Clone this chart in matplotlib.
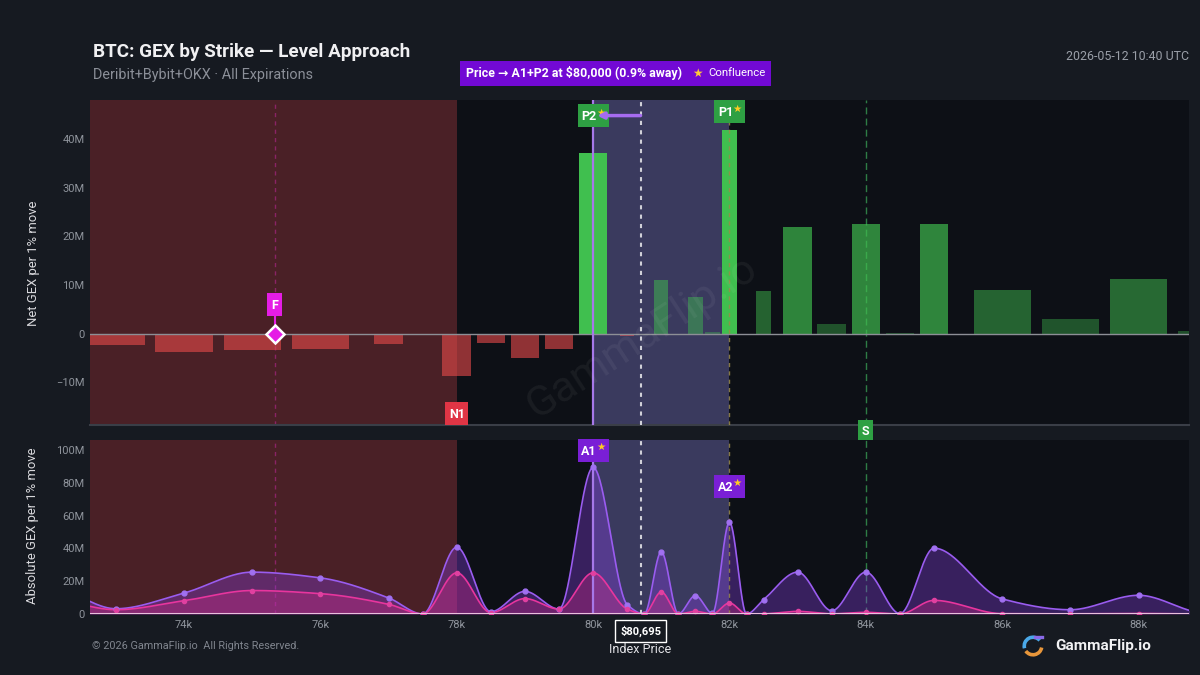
import numpy as np
import matplotlib
matplotlib.use("Agg")
import matplotlib.pyplot as plt
from matplotlib.patches import Rectangle, Arc
from matplotlib.transforms import blended_transform_factory, ScaledTranslation

plt.rcParams['font.family'] = ['Roboto', 'DejaVu Sans']

# ---------------- data ----------------
strikes = [72000, 73000, 74000, 75000, 76000, 77000, 77500, 78000, 78500, 79000,
           79500, 80000, 80500, 80750, 81000, 81250, 81500, 81750, 82000, 82250,
           82500, 83000, 83500, 84000, 84500, 85000, 86000, 87000, 88000, 89000]
net_gex = [-2.0, -2.3, -3.8, -3.4, -3.2, -2.2, 0.0, -8.7, -1.9, -4.9,
           -3.2, 37.2, -0.4, 0.0, 11.1, 0.0, 7.6, 0.4, 41.8, 0.0,
           8.8, 22.0, 2.0, 22.5, 0.2, 22.6, 8.9, 3.0, 11.3, 0.6]
abs_total = [17.0, 3.2, 12.8, 25.5, 22.0, 9.8, 0.0, 40.7, 1.4, 13.8,
             3.0, 89.3, 5.7, 0.0, 37.9, 0.0, 11.2, 0.4, 56.0, 0.0,
             8.7, 25.5, 2.0, 25.5, 0.2, 40.1, 9.2, 2.6, 11.4, 0.4]
abs_put = [9.0, 2.6, 8.1, 14.3, 12.4, 5.9, 0.0, 25.1, 0.8, 9.4,
           3.0, 25.1, 3.0, 0.0, 13.4, 0.0, 1.6, 0.0, 6.7, 0.0,
           0.1, 1.6, 0.1, 1.0, 0.0, 8.3, 0.2, 0.1, 0.3, 0.0]

top_ticks = [-10, 0, 10, 20, 30, 40]
top_tick_labels = ['−10M', '0', '10M', '20M', '30M', '40M']
bot_ticks = [0, 20, 40, 60, 80, 100]
bot_tick_labels = ['0', '20M', '40M', '60M', '80M', '100M']
x_ticks = [74000, 76000, 78000, 80000, 82000, 84000, 86000, 88000]
x_tick_labels = ['74k', '76k', '78k', '80k', '82k', '84k', '86k', '88k']

index_price = 80695
gamma_flip = 75330
neg_zone_end = 78000
band = (80000, 82000)
p_levels = {'P2': 80000, 'P1': 82000}
a_levels = {'A1': 80000, 'A2': 82000}
n_levels = {'N1': 78000}
s_level = 84000

title = 'BTC: GEX by Strike — Level Approach'
subtitle = 'Deribit+Bybit+OKX · All Expirations'
stamp = '2026-05-12 10:40 UTC'
banner = 'Price → A1+P2 at $80,000 (0.9% away)'

# ---------------- helpers ----------------
def pchip_curve(x, y, n=60):
    x = np.asarray(x, float); y = np.asarray(y, float)
    h = np.diff(x); d = np.diff(y) / h
    m = np.zeros_like(y)
    for k in range(1, len(x) - 1):
        if d[k - 1] * d[k] > 0:
            w1 = 2 * h[k] + h[k - 1]; w2 = h[k] + 2 * h[k - 1]
            m[k] = (w1 + w2) / (w1 / d[k - 1] + w2 / d[k])
    xs, ys = [], []
    t = np.linspace(0, 1, n, endpoint=False)
    h00 = 2 * t**3 - 3 * t**2 + 1; h10 = t**3 - 2 * t**2 + t
    h01 = -2 * t**3 + 3 * t**2; h11 = t**3 - t**2
    for k in range(len(x) - 1):
        xs.append(x[k] + t * h[k])
        ys.append(h00 * y[k] + h10 * h[k] * m[k] + h01 * y[k + 1] + h11 * h[k] * m[k + 1])
    xs.append([x[-1]]); ys.append([y[-1]])
    return np.concatenate(xs), np.clip(np.concatenate(ys), 0, None)

FIG_BG = '#161a21'
AX_BG = '#0d1016'
RED_ZONE = '#4a2026'
BAND = '#3a3a5e'
TICK_C = '#8f949c'

fig = plt.figure(figsize=(12, 6.75), dpi=100, facecolor=FIG_BG)
ax1 = fig.add_axes([90 / 1200, 1 - 425 / 675, 1099 / 1200, 325 / 675])
ax2 = fig.add_axes([90 / 1200, 1 - 614 / 675, 1099 / 1200, 174 / 675])
XLIM = (72620, 88740)

for ax in (ax1, ax2):
    ax.set_facecolor(AX_BG)
    for s in ax.spines.values():
        s.set_visible(False)
    ax.set_xlim(*XLIM)
    ax.tick_params(length=0, colors=TICK_C, labelsize=8, pad=4)
    ax.axvspan(XLIM[0], neg_zone_end, color=RED_ZONE, zorder=0, lw=0)
    ax.axvspan(band[0], band[1], color=BAND, zorder=0, lw=0)
    ax.axvline(gamma_flip, color='#c0289a', alpha=0.55, lw=1, dashes=(3, 3), zorder=2)
    ax.axvline(p_levels['P2'], color='#a678e8', lw=1.6, zorder=5)
    ax.axvline(index_price, color='#d0d0d8', lw=1.5, dashes=(2, 2.5), zorder=5)
    ax.axvline(p_levels['P1'], color='#9a8a4a', alpha=0.85, lw=1, dashes=(3, 3), zorder=5)
    ax.axvline(s_level, color='#2e7d45', lw=1, dashes=(5, 3), zorder=2)

ax1.spines['bottom'].set_visible(True)
ax1.spines['bottom'].set_color('#3a3e47')
ax1.spines['bottom'].set_linewidth(1.5)

# ---------------- top panel: net GEX bars ----------------
st = np.array(strikes, float)
gaps = np.diff(st)
left_gap = np.concatenate([[np.inf], gaps])
right_gap = np.concatenate([gaps, [np.inf]])
widths = 0.84 * np.minimum(left_gap, right_gap)
vmax = max(net_gex)
colors = []
for s_, v in zip(strikes, net_gex):
    if v < 0:
        colors.append((0.91, 0.29, 0.29, 0.6))
    else:
        a = 1.0 if s_ in p_levels.values() else 0.35 + 0.6 * v / vmax
        colors.append((0.25, 0.75, 0.31, a))
ax1.bar(strikes, net_gex, width=widths, color=colors, zorder=3, lw=0)
ax1.axhline(0, color='#8d8f96', lw=1, zorder=4)
ax1.set_ylim(-18.75, 48)
ax1.set_yticks(top_ticks)
ax1.set_yticklabels(top_tick_labels)
ax1.set_xticks([])

# ---------------- bottom panel: absolute GEX ----------------
cx, cy = pchip_curve(strikes, abs_total)
px_, py_ = pchip_curve(strikes, abs_put)
ax2.fill_between(cx, 0, cy, color='#8a3ee6', alpha=0.35, lw=0, zorder=2)
ax2.plot(cx, cy, color='#9a5cf0', lw=1.2, zorder=3)
ax2.fill_between(px_, 0, py_, color='#d42a8a', alpha=0.35, lw=0, zorder=3)
ax2.plot(px_, py_, color='#e8359e', lw=1.2, zorder=4)
ax2.plot(strikes, abs_total, 'o', color='#a070f0', ms=3.5, zorder=5)
ax2.plot(strikes, abs_put, 'o', color='#e040a0', ms=3, zorder=5)
ax2.axhline(0, color='#e8c0dc', lw=1.5, zorder=6)
ax2.set_ylim(0, 106)
ax2.set_yticks(bot_ticks)
ax2.set_yticklabels(bot_tick_labels)
ax2.set_xticks(x_ticks)
ax2.set_xticklabels(x_tick_labels)

# ---------------- level labels ----------------
STAR = '#ffcc22'
def label(ax, x, y, txt, fc, w, h, star=False):
    tr = fig.dpi_scale_trans + ScaledTranslation(x, y, ax.transData)
    ax.add_artist(Rectangle((-w / 200, -h / 200), w / 100, h / 100, transform=tr,
                            fc=fc, ec='none', zorder=7, clip_on=False))
    ax.annotate(txt, xy=(x, y), xytext=(-4 if star else 0, -4.5), textcoords='offset pixels',
                ha='center', va='baseline', fontsize=9, fontweight='bold',
                color='white', zorder=8, annotation_clip=False)
    if star:
        ax.annotate('★', xy=(x, y), xytext=(7.5, 3), textcoords='offset pixels',
                    ha='center', va='center', fontsize=7.5, color=STAR, zorder=8,
                    annotation_clip=False)

label(ax1, p_levels['P2'], 44.8, 'P2', '#2ea043', 31, 23, star=True)
label(ax1, p_levels['P1'], 45.6, 'P1', '#2ea043', 31, 23, star=True)
label(ax1, n_levels['N1'], -16.4, 'N1', '#e03545', 23, 23)
label(ax1, s_level, -19.8, 'S', '#2ea043', 15, 21)
label(ax2, a_levels['A1'], 99.9, 'A1', '#7a1fd6', 31, 23, star=True)
label(ax2, a_levels['A2'], 77.8, 'A2', '#7a1fd6', 31, 23, star=True)

# gamma flip marker
ax1.plot([gamma_flip, gamma_flip], [0, 4.5], color='#e51de5', lw=1.5, zorder=6)
label(ax1, gamma_flip, 6.0, 'F', '#e51de5', 15, 23)
ax1.plot([gamma_flip], [0], marker='D', ms=9, mfc='#e51de5', mec='white', mew=1.8, zorder=8)

# approach arrow
ax1.annotate('', xy=(80060, 44.8), xytext=(index_price, 44.8),
             arrowprops=dict(arrowstyle='-|>', color='#a66cf0', lw=2.5,
                             mutation_scale=9, shrinkA=0, shrinkB=0), zorder=9)

# index price label
tb = blended_transform_factory(ax2.transData, ax2.transAxes)
ax2.text(index_price, -0.098, '$80,695', transform=tb, ha='center', va='center',
         fontsize=8, fontweight='bold', color='white', clip_on=False,
         bbox=dict(boxstyle='square,pad=0.45', fc=FIG_BG, ec='white', lw=1))
ax2.text(index_price, -0.205, 'Index Price', transform=tb, ha='center', va='center',
         fontsize=9, color='#e4e4e8', clip_on=False)

# watermark
fig.text(0.535, 0.5, 'GammaFlip.io', rotation=33, fontsize=31, color='white',
         alpha=0.055, ha='center', va='center')

# ---------------- titles and texts ----------------
fig.text(93 / 1200, 1 - 52 / 675, title, fontsize=13.6, fontweight='bold',
         color='#f0f0f2', va='center')
fig.text(93 / 1200, 1 - 75 / 675, subtitle, fontsize=10.4, color='#8b8f98', va='center')
fig.text(1189 / 1200, 1 - 56 / 675, stamp, fontsize=8.9, color='#9a9fa8', ha='right', va='center')

fig.patches.append(Rectangle((460 / 1200, 1 - 86 / 675), 311 / 1200, 25 / 675,
                             transform=fig.transFigure, fc='#7209d4', ec='none'))
fig.text(466 / 1200, 1 - 73.5 / 675, banner, fontsize=8.9, fontweight='bold',
         color='white', va='center')
fig.text(697 / 1200, 1 - 73.5 / 675, '★', fontsize=8.5, color='#ffc83a', ha='center', va='center')
fig.text(708 / 1200, 1 - 73.5 / 675, 'Confluence', fontsize=8.2, color='white', va='center')

fig.text(33 / 1200, 1 - 263 / 675, 'Net GEX per 1% move', rotation=90, fontsize=9.4,
         color='#d8d8dc', ha='center', va='center')
fig.text(33 / 1200, 1 - 526 / 675, 'Absolute GEX per 1% move', rotation=90, fontsize=9.4,
         color='#d8d8dc', ha='center', va='center')

fig.text(92 / 1200, 1 - 646 / 675, '© 2026 GammaFlip.io  All Rights Reserved.',
         fontsize=7.8, color='#80858e', va='center')
fig.text(1055 / 1200, 1 - 646 / 675, 'GammaFlip.io', fontsize=11, fontweight='bold',
         color='#f2f2f4', va='center')

# logo icon
iax = fig.add_axes([1021 / 1200, 1 - 658 / 675, 24 / 1200, 24 / 675])
iax.set_xlim(-1.3, 1.3); iax.set_ylim(-1.3, 1.3); iax.set_aspect('equal'); iax.axis('off')
iax.add_patch(Arc((0, 0), 1.9, 1.9, theta1=40, theta2=195, color='#4aa8e8', lw=2.6))
iax.add_patch(Arc((0, 0), 1.9, 1.9, theta1=215, theta2=350, color='#e8963a', lw=2.6))
iax.plot([0.2, 0.95], [0.95, 0.95], color='#8a6ae8', lw=2.4)

fig.savefig('out.png', dpi=100, facecolor=FIG_BG)
